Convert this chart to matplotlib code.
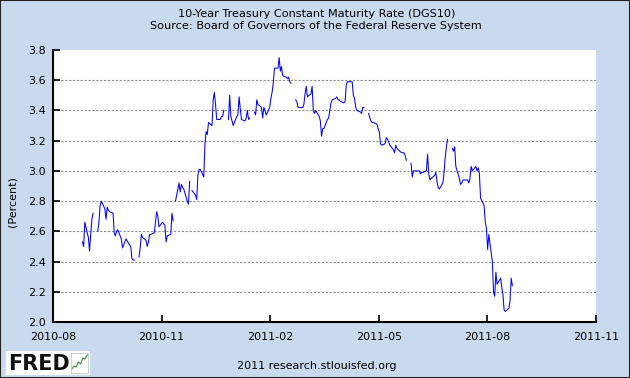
import numpy as np
import pandas as pd
import matplotlib
matplotlib.use("Agg")
import matplotlib.pyplot as plt
from matplotlib.patches import Rectangle

# ------------------------------------------------------------
# Data: DGS10 daily, 2010-08-25 .. 2011-08-25 (business days,
# NaN = bond market holiday), one row per week Mon..Fri
# ------------------------------------------------------------
start_date = "2010-08-25"
end_date = "2011-08-25"
nan = np.nan
rates = [
    2.53, 2.50, 2.66,                      # Aug 25 (Wed) ..
    2.56, 2.47, 2.58, 2.68, 2.72,          # Aug 30
    nan, 2.60, 2.66, 2.77, 2.80,           # Sep 6
    2.75, 2.68, 2.76, 2.74, 2.73,          # Sep 13
    2.72, 2.59, 2.57, 2.60, 2.61,          # Sep 20
    2.55, 2.49, 2.51, 2.53, 2.55,          # Sep 27
    2.51, 2.50, 2.42, 2.41, 2.41,          # Oct 4
    nan, 2.43, 2.49, 2.58, 2.56,           # Oct 11
    2.54, 2.50, 2.53, 2.58, 2.58,          # Oct 18
    2.59, 2.66, 2.73, 2.70, 2.63,          # Oct 25
    2.66, 2.65, 2.64, 2.53, 2.57,          # Nov 1
    2.58, 2.72, 2.67, nan, 2.80,           # Nov 8
    2.92, 2.86, 2.91, 2.89, 2.88,          # Nov 15
    2.80, 2.78, 2.93, nan, 2.87,           # Nov 22
    2.84, 2.81, 2.97, 3.01, 3.01,          # Nov 29
    2.96, 3.18, 3.26, 3.24, 3.32,          # Dec 6
    3.30, 3.47, 3.52, 3.44, 3.34,          # Dec 13
    3.34, 3.36, 3.36, 3.40, nan,           # Dec 20
    3.34, 3.50, 3.36, 3.33, 3.30,          # Dec 27
    3.36, 3.37, 3.49, 3.41, 3.34,          # Jan 3
    3.33, 3.35, 3.40, 3.34, 3.35,          # Jan 10
    nan, 3.39, 3.37, 3.47, 3.44,           # Jan 17
    3.42, 3.35, 3.42, 3.40, 3.37,          # Jan 24
    3.42, 3.48, 3.52, 3.58, 3.68,          # Jan 31
    3.68, 3.75, 3.66, 3.69, 3.63,          # Feb 7
    3.62, 3.61, 3.62, 3.59, 3.58,          # Feb 14
    nan, 3.47, 3.46, 3.42, 3.42,           # Feb 21
    3.42, 3.44, 3.51, 3.56, 3.49,          # Feb 28
    3.51, 3.56, 3.40, 3.38, 3.40,          # Mar 7
    3.36, 3.33, 3.23, 3.28, 3.28,          # Mar 14
    3.34, 3.35, 3.40, 3.45, 3.47,          # Mar 21
    3.48, 3.49, 3.47, 3.47, 3.46,          # Mar 28
    3.45, 3.46, 3.57, 3.59, 3.59,          # Apr 4
    3.59, 3.50, 3.48, 3.42, 3.40,          # Apr 11
    3.39, 3.38, 3.42, 3.42, nan,           # Apr 18
    3.38, 3.35, 3.33, 3.32, 3.32,          # Apr 25
    3.31, 3.28, 3.26, 3.18, 3.17,          # May 2
    3.18, 3.22, 3.21, 3.19, 3.17,          # May 9
    3.14, 3.12, 3.17, 3.15, 3.14,          # May 16
    3.12, 3.12, 3.12, 3.10, 3.07,          # May 23
    nan, 3.05, 2.96, 3.00, 3.00,           # May 30
    3.00, 3.00, 2.98, 2.99, 2.99,          # Jun 6
    3.00, 3.11, 2.98, 2.94, 2.95,          # Jun 13
    2.97, 2.99, 2.93, 2.89, 2.88,          # Jun 20
    2.92, 2.99, 3.09, 3.16, 3.21,          # Jun 27
    nan, 3.15, 3.13, 3.16, 3.03,           # Jul 4
    2.95, 2.91, 2.92, 2.94, 2.94,          # Jul 11
    2.94, 2.92, 2.95, 3.03, 3.00,          # Jul 18
    3.03, 3.00, 3.02, 2.98, 2.82,          # Jul 25
    2.77, 2.66, 2.62, 2.48, 2.58,          # Aug 1
    2.40, 2.20, 2.17, 2.33, 2.25,          # Aug 8
    2.29, 2.23, 2.18, 2.08, 2.07,          # Aug 15
    2.09, 2.14, 2.29, 2.24,                # Aug 22
]

tick_labels = ["2010-08", "2010-11", "2011-02", "2011-05", "2011-08", "2011-11"]
y_ticks = [2.0, 2.2, 2.4, 2.6, 2.8, 3.0, 3.2, 3.4, 3.6, 3.8]
logo_trend = [0.2, 0.35, 0.3, 0.55, 0.45, 0.75, 0.7, 0.9]

title = "10-Year Treasury Constant Maturity Rate (DGS10)\nSource: Board of Governors of the Federal Reserve System"
footer = "2011 research.stlouisfed.org"

dates = pd.bdate_range(start_date, end_date)
series = pd.Series(rates, index=dates)

# ------------------------------------------------------------
# Figure
# ------------------------------------------------------------
BG = "#C9DAEF"
fig = plt.figure(figsize=(6.3, 3.78), dpi=100, facecolor=BG)
fig.patches.append(Rectangle((0, 0), 1, 1, transform=fig.transFigure,
                             facecolor="none", edgecolor="#222222", lw=1.5))

ax = fig.add_axes([53 / 630, 1 - 322 / 378, 543 / 630, 272 / 378])
ax.set_facecolor("white")
ax.plot(series.index, series.values, color="#0000FF", lw=0.75)

# axis range: evenly spaced quarterly ticks, as on the source chart
x0, x1 = pd.Timestamp("2010-07-31"), pd.Timestamp("2011-11-04")
ax.set_xlim(x0, x1)
ticks = [x0 + (x1 - x0) * i / 5 for i in range(6)]
ax.set_xticks(ticks)
ax.set_xticklabels(tick_labels)
ax.set_ylim(2.0, 3.8)
ax.set_yticks(y_ticks)
ax.set_yticklabels([f"{v:.1f}" for v in y_ticks])

for v in y_ticks[1:-1]:
    ax.axhline(v, color="#8C8C8C", lw=0.8, ls=(0, (2, 1.5)), zorder=0)

for s in ["top", "right"]:
    ax.spines[s].set_visible(False)
for s in ["left", "bottom"]:
    ax.spines[s].set_linewidth(1.5)
    ax.spines[s].set_color("black")
ax.tick_params(direction="in", length=5, width=1.2, labelsize=8,
               colors="black")
ax.tick_params(axis="y", pad=5)
ax.tick_params(axis="x", pad=7)

fig.text(12 / 630, 1 - 202 / 378, "(Percent)", rotation=90, ha="center",
         va="center", fontsize=8)
fig.text(0.502, 1 - 20 / 378, title, ha="center", va="center",
         fontsize=8.1, linespacing=1.2)
fig.text(0.502, 1 - 366 / 378, footer, ha="center", va="center", fontsize=8)

# FRED logo
fig.patches.append(Rectangle((6 / 630, 1 - 375 / 378), 84 / 630, 24 / 378,
                             transform=fig.transFigure, facecolor="white",
                             edgecolor="none"))
fig.text(8 / 630, 1 - 364 / 378, "FRED", fontsize=15, fontweight="heavy",
         ha="left", va="center", color="#111111", family="DejaVu Sans")
icon = fig.add_axes([71 / 630, 1 - 373 / 378, 17 / 630, 20 / 378], zorder=5)
icon.plot(range(len(logo_trend)), logo_trend, color="#3A8A3A", lw=0.8)
icon.set_xticks([])
icon.set_yticks([])
icon.set_ylim(0, 1)
for s in icon.spines.values():
    s.set_color("#BBBBBB")
    s.set_linewidth(0.5)

fig.savefig("out.png", dpi=100, facecolor=BG)
